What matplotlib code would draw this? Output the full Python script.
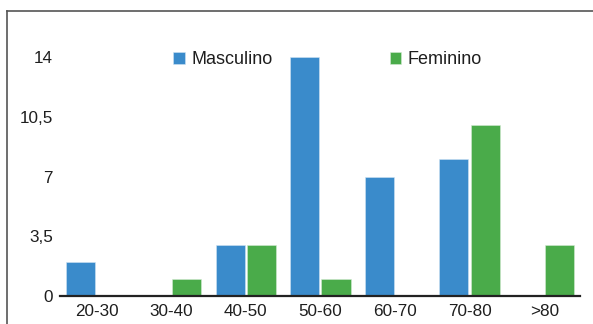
import numpy as np
import matplotlib.pyplot as plt
from matplotlib.lines import Line2D

plt.rcParams['font.family'] = ['Liberation Sans', 'DejaVu Sans']

categories = ['20-30', '30-40', '40-50', '50-60', '60-70', '70-80', '>80']
masculino = [2, 0, 3, 14, 7, 8, 0]
feminino = [0, 1, 3, 1, 0, 10, 3]
y_ticks = [0, 3.5, 7, 10.5, 14]
y_labels = ['0', '3,5', '7', '10,5', '14']

W, H = 593, 324
fig = plt.figure(figsize=(W / 100, H / 100), dpi=100)
ax = fig.add_axes([60 / W, 28 / H, 520 / W, 239 / H])

blue = '#3a8bcb'
green = '#4aab4a'
x = np.arange(len(categories))
bw = 0.39
off = 0.21
ax.bar(x - off, masculino, bw, color=blue, edgecolor='#cfe3f3', linewidth=0.4, label='Masculino', clip_on=False)
ax.bar(x + off, feminino, bw, color=green, edgecolor='#d3ebd3', linewidth=0.4, label='Feminino', clip_on=False)

ax.set_xlim(-0.49, 6.48)
ax.set_ylim(0, 14)
ax.set_xticks(x)
ax.set_xticklabels(categories)
ax.set_yticks(y_ticks)
ax.set_yticklabels(y_labels)
ax.tick_params(axis='both', length=0, labelsize=12.3, colors='#1e1e1e')
ax.tick_params(axis='x', pad=6)
ax.tick_params(axis='y', pad=5)

for s in ['top', 'right', 'left']:
    ax.spines[s].set_visible(False)
ax.spines['bottom'].set_color('#222222')
ax.spines['bottom'].set_linewidth(1.6)

leg = ax.legend(ncol=2, loc='center left', bbox_to_anchor=(173 / W, 1 - 60 / H),
                bbox_transform=fig.transFigure, frameon=False, fontsize=13,
                handlelength=0.65, handleheight=0.65, handletextpad=0.35,
                columnspacing=6.5, borderpad=0, borderaxespad=0)
for t in leg.get_texts():
    t.set_color('#1e1e1e')

# outer frame (top and left edges visible)
fig.add_artist(Line2D([7 / W, 1], [1 - 11 / H, 1 - 11 / H], transform=fig.transFigure,
                      color='#555555', linewidth=1.2))
fig.add_artist(Line2D([7 / W, 7 / W], [0, 1 - 11 / H], transform=fig.transFigure,
                      color='#555555', linewidth=1.2))

fig.savefig('out.png', dpi=100)
